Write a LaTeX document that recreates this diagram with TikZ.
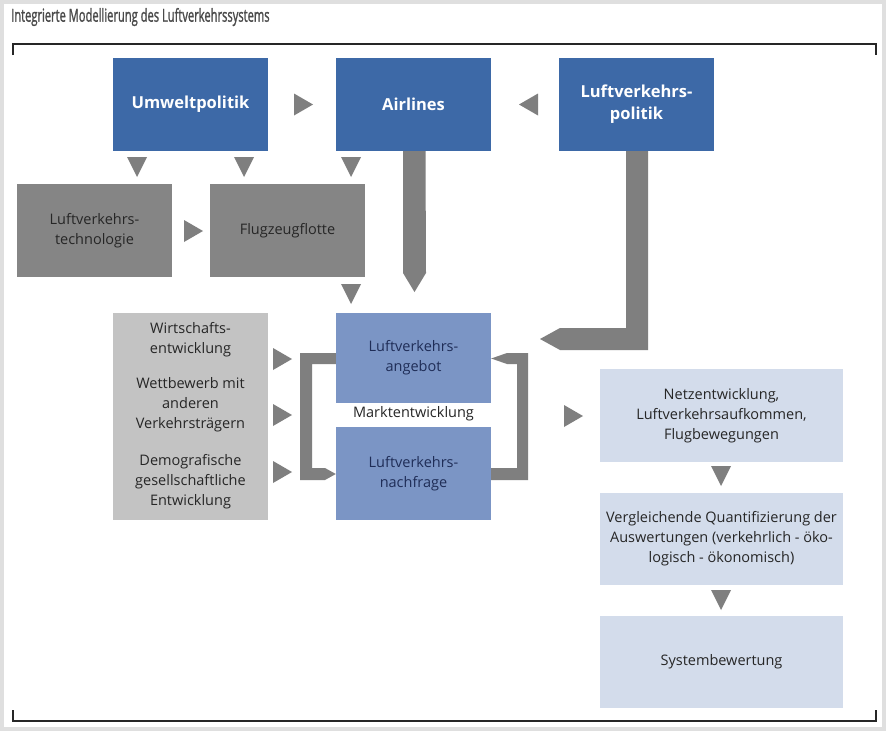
\documentclass[tikz,border=0pt]{standalone}
\usepackage{fontspec}
\setmainfont{Open Sans}
\newfontfamily\titlefont[FakeStretch=0.62,FakeBold=1.2]{Open Sans}
\definecolor{dblue}{HTML}{3D69A7}
\definecolor{mblue}{HTML}{7B95C5}
\definecolor{lblue}{HTML}{D3DCEB}
\definecolor{dgray}{HTML}{858585}
\definecolor{lgray}{HTML}{C3C3C3}
\definecolor{agray}{HTML}{7F7F7F}
\definecolor{navy}{HTML}{1F2D57}
\definecolor{txtgray}{HTML}{262626}
\definecolor{titlegray}{HTML}{4A4A4A}
\tikzset{
  basebox/.style={rectangle, inner sep=0pt, align=center, font=\fontsize{14.5}{20}\selectfont},
  darkbox/.style={basebox, fill=dblue, text=white, font=\fontsize{16.5}{22}\selectfont\bfseries, minimum width=155pt, minimum height=93pt},
  graybox/.style={basebox, fill=dgray, text=txtgray, minimum width=155pt, minimum height=93pt},
  midbox/.style={basebox, fill=mblue, text=navy, minimum width=155pt},
  resbox/.style={basebox, fill=lblue, text=txtgray, minimum width=243pt},
  bigarrow/.style={fill=agray},
  tridown/.pic={\fill[agray] (-10,-10)--(10,-10)--(0,10)--cycle;},
  triright/.pic={\fill[agray] (-9,-11)--(-9,11)--(10,0)--cycle;},
  trileft/.pic={\fill[agray] (9,-11)--(9,11)--(-10,0)--cycle;},
}
\begin{document}
\begin{tikzpicture}[x=1pt,y=-1pt]
\useasboundingbox (0,0) rectangle (886,731);
\fill[gray!25] (0,0) rectangle (886,731);
\fill[white] (4,4) rectangle (882,727);
% title
\node[anchor=west, text=titlegray, font=\titlefont\fontsize{18}{20}\selectfont, inner sep=0pt] (title) at (11,17) {Integrierte Modellierung des Luftverkehrssystems};
% frame
\draw[line width=2pt, black!85] (13,55) -- (13,44) -- (876,44) -- (876,55);
\draw[line width=2pt, black!85] (13,710) -- (13,721) -- (876,721) -- (876,710);
% top row
\node[darkbox] (umw) at (190.5,104.5) {Umweltpolitik};
\node[darkbox] (air) at (413.5,104.5) {Airlines};
\node[darkbox] (lvp) at (636.5,104.5) {Luftverkehrs-\\politik};
% second row
\node[graybox] (tech) at (94.5,230.5) {Luftverkehrs-\\technologie};
\node[graybox] (flotte) at (287.5,230.5) {Flugzeugflotte};
% left factors
\node[basebox, fill=lgray, text=txtgray, minimum width=155pt, minimum height=207pt] (fact) at (190.5,416.5) {};
\node[basebox, text=txtgray] (f1) at (190.5,340) {Wirtschafts-\\entwicklung};
\node[basebox, text=txtgray] (f2) at (190.5,405) {Wettbewerb mit\\anderen\\Verkehrstr\"agern};
\node[basebox, text=txtgray] (f3) at (190.5,482) {Demografische\\gesellschaftliche\\Entwicklung};
% market
\node[midbox, minimum height=90pt] (ang) at (413.5,358) {Luftverkehrs-\\angebot};
\node[midbox, minimum height=93pt] (nach) at (413.5,473.5) {Luftverkehrs-\\nachfrage};
\node[basebox, text=txtgray] (markt) at (413.5,414) {Marktentwicklung};
% results
\node[resbox, minimum height=93pt] (netz) at (721.5,415.5) {Netzentwicklung,\\Luftverkehrsaufkommen,\\Flugbewegungen};
\node[resbox, minimum height=92pt] (verg) at (721.5,539) {Vergleichende Quantifizierung der\\Auswertungen (verkehrlich - \"oko-\\logisch - \"okonomisch)};
\node[resbox, minimum height=92pt] (sys) at (721.5,662) {Systembewertung};
% triangles
\pic at (303,104.5) {triright};
\pic at (529,104.5) {trileft};
\pic at (137,167) {tridown};
\pic at (244,167) {tridown};
\pic at (351,167) {tridown};
\pic at (193,231) {triright};
\pic at (351,294) {tridown};
\pic at (282,359) {triright};
\pic at (282,415) {triright};
\pic at (282,472) {triright};
\pic at (573,416) {triright};
\pic at (721,476) {tridown};
\pic at (721,600) {tridown};
% Airlines big arrow
\fill[bigarrow] ([xshift=-10.5pt]air.south) -- ([xshift=12pt]air.south) -- (426,273) -- (414.5,292) -- (403,273) -- cycle;
% Luftverkehrspolitik L arrow
\fill[bigarrow] ([xshift=-10.5pt]lvp.south) -- ([xshift=11.5pt]lvp.south) -- (648,350) -- (560,350) -- (540,339) -- (560,328) -- (626,328) -- cycle;
% left bracket: angebot -> nachfrage
\fill[bigarrow] (ang.west |- 0,353) -- (300,353) -- (300,480) -- (325,480) -- (nach.west |- 0,474) -- (325,468) -- (312,468) -- (312,364) -- (ang.west |- 0,364) -- cycle;
% right bracket: nachfrage -> angebot
\fill[bigarrow] (nach.east |- 0,480) -- (528,480) -- (528,353) -- (507,353) -- (ang.east |- 0,358.5) -- (507,364) -- (517,364) -- (517,468) -- (nach.east |- 0,468) -- cycle;
\end{tikzpicture}
\end{document}
